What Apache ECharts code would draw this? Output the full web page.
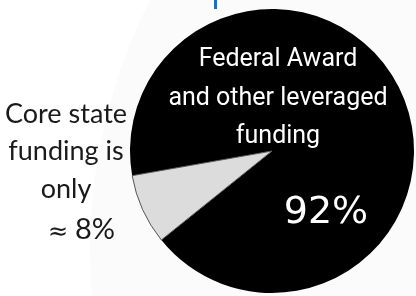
<!DOCTYPE html>
<html>
<head>
<meta charset="utf-8">
<style>html,body{margin:0;padding:0;background:#fff;}#chart{width:416px;height:296px;}</style>
<script src="https://cdn.jsdelivr.net/npm/echarts@6/dist/echarts.min.js"></script>
</head>
<body>
<div id="chart"></div>
<script>
// Data
var categories = ['Federal Award and other leveraged funding', 'Core state funding'];
var values = [92, 8];
var colors = ['#000000', '#dcdcdd'];
var insideLines = ['Federal Award', 'and other leveraged', 'funding'];
var sideLines = ['Core state', 'funding is', 'only'];
var approxSign = '\u2248';

var chart = echarts.init(document.getElementById('chart'), null, {renderer: 'canvas'});

var pieData = categories.map(function (c, i) {
  return {
    name: c, value: values[i],
    itemStyle: i === 1 ? {color: colors[i], borderColor: '#555', borderWidth: 1} : {color: colors[i], borderWidth: 0}
  };
});

var elems = [
  {type: 'circle', z: -10, shape: {cx: 641, cy: 250, r: 551}, style: {fill: '#fbfbfb'}},
  {type: 'rect', z: 100, shape: {x: 214, y: 0, width: 3, height: 9}, style: {fill: '#1a6fc0'}}
];
var inY = [60, 99, 137];
insideLines.forEach(function (t, i) {
  elems.push({type: 'text', z: 100, x: 278, y: inY[i], style: {
    text: t, fill: '#ffffff', font: '25px Roboto', align: 'center', verticalAlign: 'middle'}});
});
elems.push({type: 'text', z: 100, x: 326, y: 213, style: {
  text: values[0] + '%', fill: '#ffffff', font: '38px "DejaVu Sans"', align: 'center', verticalAlign: 'middle'}});
var sideY = [114, 151, 189];
sideLines.forEach(function (t, i) {
  elems.push({type: 'text', z: 100, x: 66, y: sideY[i], style: {
    text: t, fill: '#1a1a1a', font: '27px Lato', align: 'center', verticalAlign: 'middle'}});
});
elems.push({type: 'text', z: 100, x: 58, y: 233, style: {
  text: approxSign, fill: '#1a1a1a', font: '24px "DejaVu Sans"', align: 'center', verticalAlign: 'middle'}});
elems.push({type: 'text', z: 100, x: 95, y: 230, style: {
  text: values[1] + '%', fill: '#1a1a1a', font: '29px Lato', align: 'center', verticalAlign: 'middle'}});

chart.setOption({
  animation: false,
  backgroundColor: '#ffffff',
  graphic: {elements: elems},
  series: [{
    type: 'pie',
    center: [272, 151],
    radius: 142,
    startAngle: 190,
    clockwise: true,
    label: {show: false},
    labelLine: {show: false},
    emphasis: {disabled: true},
    data: pieData
  }]
});
</script>
</body>
</html>
